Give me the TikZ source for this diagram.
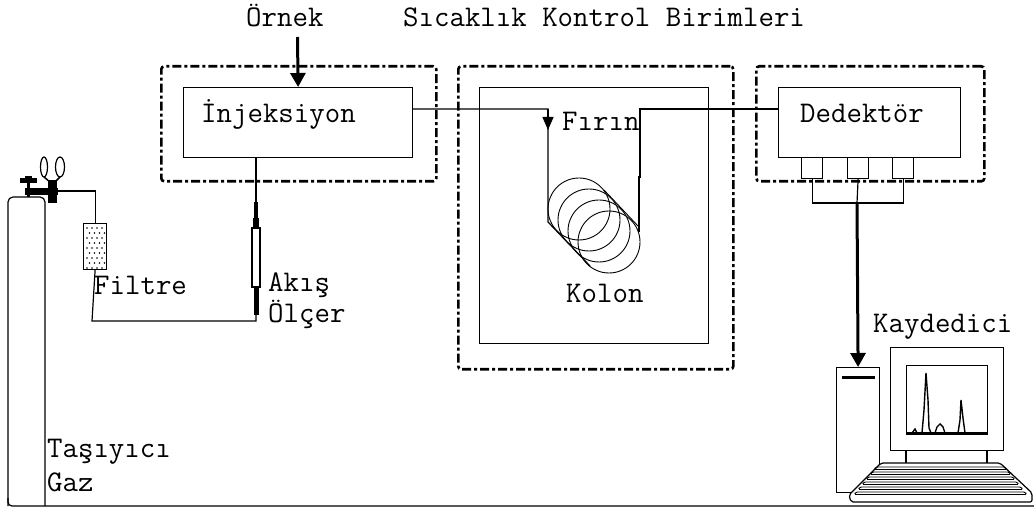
\documentclass[tikz,border=0pt]{standalone}
\usepackage{fontspec}
\usetikzlibrary{arrows.meta}
\begin{document}
\begin{tikzpicture}[x=1pt,y=-1pt,
  txt/.style={font=\ttfamily\fontsize{30}{35}\selectfont, inner sep=0pt, anchor=base west},
  unit/.style={draw, line width=1.2pt, inner sep=0pt, anchor=north west},
  ctrl/.style={draw, line width=2.6pt, dash pattern=on 9pt off 3pt on 3pt off 3pt,
               rounded corners=3pt, inner sep=0pt, anchor=north west},
  pipe/.style={line width=1.2pt},
  feed/.style={line width=3pt, -{Triangle[length=14pt,width=15pt]}},
  tip/.style={line width=1.2pt, -{Triangle[length=13pt,width=11pt]}},
]
\useasboundingbox (0,0) rectangle (1034,510);

% ---- temperature-controlled units (dash-dot enclosures)
\node[ctrl, minimum width=275pt, minimum height=115pt] (injzone) at (160,65) {};
\node[ctrl, minimum width=275pt, minimum height=303pt] (ovenzone) at (457,65) {};
\node[ctrl, minimum width=228pt, minimum height=115pt] (detzone) at (755,65) {};

% ---- main units
\node[unit, minimum width=229pt, minimum height=70pt] (inj) at (183,87) {};
\node[unit, minimum width=229pt, minimum height=256pt] (oven) at (479,87) {};
\node[unit, minimum width=182pt, minimum height=70pt] (det) at (778,87) {};

% ---- labels
\node[txt] (lorn) at (246,27) {Örnek};
\node[txt] (lsic) at (403,27) {Sıcaklık Kontrol Birimleri};
\node[txt] (linj) at (201,123) {İnjeksiyon};
\node[txt] (lfir) at (562,131) {Fırın};
\node[txt] (ldet) at (800,123) {Dedektör};
\node[txt] (lfil) at (94,295) {Filtre};
\node[txt] (lak) at (268,292) {Akış};
\node[txt] (lol) at (268,323) {Ölçer};
\node[txt] (lkol) at (566,303) {Kolon};
\node[txt] (lkay) at (873,333) {Kaydedici};
\node[txt] (ltas) at (47,457) {Taşıyıcı};
\node[txt] (lgaz) at (47,492) {Gaz};

% ---- sample injection
\coordinate (smp) at (297.5,37);
\draw[feed] (smp) -- (inj.north);

% ---- injector to column
\coordinate (cin) at (548,109);
\coordinate (cout) at (640,109);
\draw[pipe] (inj.east |- cin) -- (cin) -- (548,222) -- (590,266);
\draw[tip] (cin) -- (548,130);
\draw[pipe] (det.west |- cout) -- (cout) -- (640,177) -- (639,177) -- (639,232);

% ---- coiled column
\foreach \i in {0,...,3}
  \draw[line width=0.9pt] (579+10*\i,209+11*\i) circle[radius=31pt];
\draw[line width=0.9pt] (604,190) -- (638,226);

% ---- detector outputs
\foreach \n/\x in {p1/801,p2/847,p3/892}
  \node[unit, minimum width=21pt, minimum height=21pt] (\n) at (\x,157) {};
\coordinate (bus) at (857,203);
\draw[pipe] (p1.south) -- (p1.south |- bus) -- (p3.south |- bus) -- (p3.south);
\draw[pipe] (p2.south) -- (bus);

% ---- recorder
\node[unit, minimum width=43pt, minimum height=125pt] (tower) at (836,367) {};
\draw[line width=3pt] (842,378) -- (875,378);
\draw[feed] (bus) -- (tower.north);
\node[unit, minimum width=113pt, minimum height=103pt] (mon) at (890,347) {};
\node[unit, minimum width=81pt, minimum height=69pt] (scr) at (906,365) {};
\draw[pipe] (906,450) -- (906,463) (987,450) -- (987,463);
\draw[line width=2.2pt] (906,433) -- (987,433);
\draw[line width=1.4pt] (912,433) -- (915,429) -- (917,433) -- (922,433) -- (924,410)
  -- (926,373) -- (928,400) -- (929,428) -- (931,433) -- (935,433) -- (937,427)
  -- (940,424) -- (943,427) -- (945,433) -- (958,433) -- (960,420) -- (961,400)
  -- (963,418) -- (965,433);
% keyboard, in front of the tower
\draw[pipe, fill=white, rounded corners=2pt] (881,463) -- (1000,463) -- (1032,493) -- (1032,502)
  -- (851,502) -- (849,495) -- cycle;
\foreach \k in {0,...,5}
  \draw[line width=0.9pt, rounded corners=1.5pt]
    (876-4*\k,467+5*\k) -- (1005+4*\k,467+5*\k) -- (1007+4*\k,469.5+5*\k) -- (874-4*\k,469.5+5*\k) -- cycle;

% ---- carrier gas cylinder and ground line
\draw[line width=1.2pt, rounded corners=5pt] (8,506) -- (8,197) -- (45,197) -- (45,506);
\draw[line width=1.2pt, rounded corners=4pt] (8,498) -- (8,506) -- (1034,506);
% valve, regulator and gauges
\fill (20,178) rectangle (37,183);
\fill (25,176) rectangle (32,181);
\draw[line width=2.5pt] (28.5,181) -- (28.5,197);
\fill (25,188) rectangle (58,195);
\fill (48,180) rectangle (57,203);
\draw[line width=1.2pt] (44,167) ellipse[x radius=3.5pt, y radius=10pt];
\draw[line width=1.2pt] (60,167) ellipse[x radius=4.5pt, y radius=10pt];
\draw[line width=1.5pt] (44,177) -- (50,182) (60,177) -- (55,182);

% ---- filter
\node[unit, minimum width=23pt, minimum height=46pt] (filt) at (83,223) {};
\foreach \r in {0,...,8}
  \foreach \c in {0,...,3}
    \fill ({87+5*\c+2.5*mod(\r,2)},{228+5*\r}) circle[radius=0.9pt];
\coordinate (gasout) at (58,191);
\draw[pipe] (gasout) -- (filt.north |- gasout) -- (filt.north);

% ---- flow meter
\coordinate (fm) at (256,321);
\draw[pipe] (filt.south) -- (92,321) -- (fm) -- (256,315);
\draw[line width=5pt] (256,315) -- (256,287);
\draw[line width=1.2pt, fill=white] (252,228) rectangle (260,287);
\draw[line width=6pt] (256,228) -- (256,218);
\draw[line width=3.5pt] (256,218) -- (256,202);
\draw[pipe] (256,202) -- (inj.south -| fm);
\end{tikzpicture}
\end{document}
